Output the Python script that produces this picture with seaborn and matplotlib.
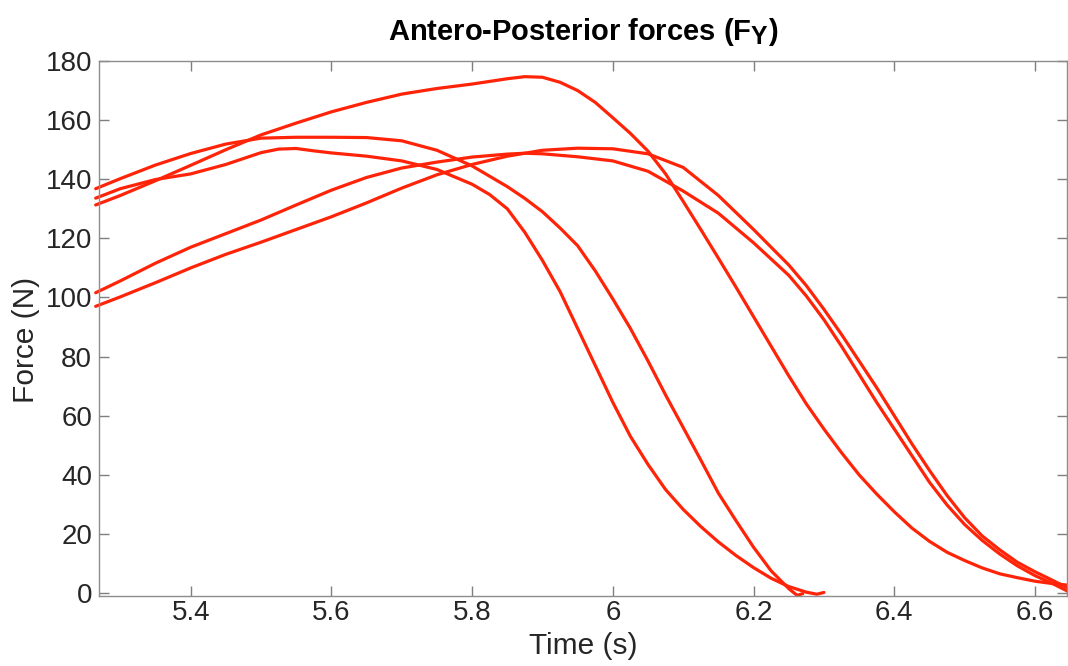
import numpy as np
import pandas as pd
import matplotlib
matplotlib.use("Agg")
import matplotlib.pyplot as plt
import seaborn as sns

try:
    import matplotlib._mathtext as _mt
    _mt.SHRINK_FACTOR = 0.85
except Exception:
    pass

# ---- data ----
t_a = [5.265, 5.30, 5.35, 5.40, 5.45, 5.50, 5.55, 5.60, 5.65, 5.70, 5.75, 5.80, 5.85, 5.875,
       5.90, 5.925, 5.95, 5.975, 6.00, 6.025, 6.05, 6.075, 6.10, 6.125, 6.15, 6.175, 6.20,
       6.225, 6.25, 6.275, 6.30, 6.325, 6.35, 6.375, 6.40, 6.425, 6.45, 6.475, 6.50, 6.525,
       6.55, 6.575, 6.60, 6.625, 6.65]
f_a = [131.3, 134.5, 139.5, 144.7, 150.0, 155.0, 159.0, 162.8, 166.0, 168.8, 170.7, 172.2, 174.0, 174.7,
       174.5, 172.8, 170.0, 166.0, 160.8, 155.5, 149.5, 141.8, 132.5, 123.0, 113.3, 103.5, 93.5,
       83.5, 73.5, 64.0, 55.5, 47.5, 40.0, 33.5, 27.5, 22.0, 17.5, 13.8, 11.0, 8.5,
       6.5, 5.2, 4.0, 3.2, 2.6]

t_b = [5.265, 5.30, 5.35, 5.40, 5.45, 5.50, 5.55, 5.60, 5.65, 5.70, 5.75, 5.80, 5.85, 5.875,
       5.90, 5.925, 5.95, 5.975, 6.00, 6.025, 6.05, 6.075, 6.10, 6.125, 6.15, 6.175, 6.20,
       6.225, 6.25, 6.262, 6.27]
f_b = [136.8, 140.2, 144.8, 148.7, 151.9, 153.9, 154.2, 154.2, 154.1, 153.0, 149.8, 144.5, 137.5, 133.5,
       129.0, 123.5, 117.5, 109.0, 99.5, 89.5, 78.5, 67.0, 56.0, 45.0, 33.8, 24.5, 15.5,
       7.5, 1.5, -0.8, -0.2]

t_c = [5.265, 5.30, 5.35, 5.40, 5.45, 5.50, 5.525, 5.55, 5.575, 5.60, 5.65, 5.70, 5.75, 5.80,
       5.825, 5.85, 5.875, 5.90, 5.925, 5.95, 5.975, 6.00, 6.025, 6.05, 6.075, 6.10, 6.125,
       6.15, 6.175, 6.20, 6.225, 6.25, 6.275, 6.29, 6.30]
f_c = [133.6, 136.8, 139.9, 141.8, 145.0, 149.0, 150.2, 150.4, 149.6, 148.9, 147.8, 146.2, 143.3, 138.3,
       134.8, 130.0, 122.0, 112.5, 102.0, 89.5, 77.0, 64.5, 53.0, 43.5, 35.0, 28.3, 22.5,
       17.3, 12.7, 8.6, 5.0, 2.2, 0.3, -0.4, 0.2]

t_d = [5.265, 5.30, 5.35, 5.40, 5.45, 5.50, 5.55, 5.60, 5.65, 5.70, 5.75, 5.80, 5.85, 5.875,
       5.90, 5.95, 6.00, 6.05, 6.10, 6.15, 6.20, 6.25, 6.275, 6.30, 6.325, 6.35, 6.375, 6.40,
       6.425, 6.45, 6.475, 6.50, 6.525, 6.55, 6.575, 6.60, 6.625, 6.65]
f_d = [101.6, 105.6, 111.6, 117.0, 121.6, 126.2, 131.3, 136.3, 140.6, 143.8, 145.8, 147.5, 148.5, 148.8,
       148.6, 147.6, 146.2, 142.7, 136.0, 128.5, 118.5, 107.5, 100.5, 92.5, 83.5, 74.0, 64.5, 55.5,
       46.5, 37.5, 29.8, 23.2, 17.8, 13.2, 9.2, 5.9, 3.2, 0.2]

t_e = [5.265, 5.30, 5.35, 5.40, 5.45, 5.50, 5.55, 5.60, 5.65, 5.70, 5.75, 5.80, 5.85,
       5.90, 5.95, 6.00, 6.05, 6.10, 6.15, 6.20, 6.25, 6.275, 6.30, 6.325, 6.35, 6.375, 6.40,
       6.425, 6.45, 6.475, 6.50, 6.525, 6.55, 6.575, 6.60, 6.625, 6.65]
f_e = [97.0, 100.2, 105.0, 110.0, 114.6, 118.7, 123.0, 127.3, 132.0, 137.0, 141.5, 145.0, 147.8,
       149.8, 150.5, 150.3, 148.6, 144.0, 134.5, 123.0, 111.0, 104.0, 96.0, 87.5, 78.5, 69.5, 60.0,
       50.5, 41.5, 33.0, 25.5, 19.3, 14.6, 10.4, 7.2, 4.3, 1.3]

x_ticks = [5.4, 5.6, 5.8, 6.0, 6.2, 6.4, 6.6]
x_ticklabels = ["5.4", "5.6", "5.8", "6", "6.2", "6.4", "6.6"]
y_ticks = [0, 20, 40, 60, 80, 100, 120, 140, 160, 180]

series = [("A", t_a, f_a), ("B", t_b, f_b), ("C", t_c, f_c), ("D", t_d, f_d), ("E", t_e, f_e)]
df = pd.concat([pd.DataFrame({"trial": n, "time": t, "force": f}) for n, t, f in series],
               ignore_index=True)

# ---- style ----
sns.set_theme(style="white")
plt.rcParams["font.family"] = ["Liberation Sans", "DejaVu Sans"]
plt.rcParams["mathtext.fontset"] = "custom"
plt.rcParams["mathtext.rm"] = "Liberation Sans"
plt.rcParams["mathtext.bf"] = "Liberation Sans:bold"

fig = plt.figure(figsize=(10.68, 6.66), dpi=100)
ax = fig.add_axes([99 / 1068, 1 - 596 / 666, (1067 - 99) / 1068, (596 - 61) / 666])

red = "#FF2408"
sns.lineplot(data=df, x="time", y="force", hue="trial", units="trial", estimator=None,
             sort=False, palette=[red] * 5, linewidth=2.3, legend=False, ax=ax)
for ln in ax.get_lines():
    ln.set_clip_on(False)

ax.set_xlim(5.2697, 6.6455)
ax.set_ylim(-1, 180)
ax.set_xticks(x_ticks)
ax.set_xticklabels(x_ticklabels)
ax.set_yticks(y_ticks)

txt = "#262626"
ax.tick_params(axis="both", which="both", direction="in", length=7, width=1,
               color="#7f7f7f", labelsize=20, labelcolor=txt,
               top=True, right=True, bottom=True, left=True)
ax.tick_params(axis="x", pad=3)
ax.tick_params(axis="y", pad=5)
for s in ax.spines.values():
    s.set_visible(True)
    s.set_color("#8c8c8c")
    s.set_linewidth(1.0)

ax.set_xlabel("Time (s)", fontsize=21.5, color=txt)
ax.set_ylabel("Force (N)", fontsize=21.5, color=txt)
ax.xaxis.set_label_coords(0.5, (596 - 632) / 535)
ax.yaxis.set_label_coords((40 - 99) / 968, (596 - 340) / 535)
ax.set_title(r"Antero-Posterior forces ($\mathbf{F_Y}$)", fontsize=21, fontweight="bold",
             color="black", pad=15)

fig.savefig("out.png", dpi=100)
